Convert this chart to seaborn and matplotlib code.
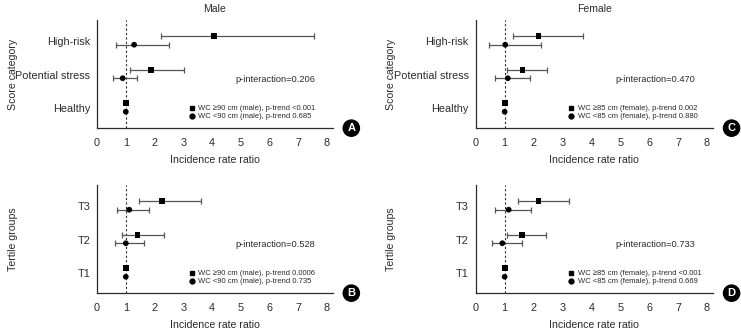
import numpy as np
import pandas as pd
import matplotlib
matplotlib.use('Agg')
import matplotlib.pyplot as plt
import seaborn as sns

# ---- data ----
score_cats = ['Healthy', 'Potential stress', 'High-risk']
tertile_cats = ['T1', 'T2', 'T3']

# panel A: male, score category
a_hi_irr = [1.0, 1.88, 4.07]
a_hi_lo = [1.0, 1.16, 2.21]
a_hi_up = [1.0, 3.04, 7.56]
a_lo_irr = [1.0, 0.89, 1.29]
a_lo_lo = [1.0, 0.57, 0.66]
a_lo_up = [1.0, 1.40, 2.52]

# panel C: female, score category
c_hi_irr = [1.0, 1.62, 2.17]
c_hi_lo = [1.0, 1.07, 1.30]
c_hi_up = [1.0, 2.48, 3.70]
c_lo_irr = [1.0, 1.11, 1.02]
c_lo_lo = [1.0, 0.65, 0.47]
c_lo_up = [1.0, 1.86, 2.26]

# panel B: male, tertiles
b_hi_irr = [1.0, 1.41, 2.25]
b_hi_lo = [1.0, 0.86, 1.45]
b_hi_up = [1.0, 2.32, 3.63]
b_lo_irr = [1.0, 1.00, 1.12]
b_lo_lo = [1.0, 0.62, 0.69]
b_lo_up = [1.0, 1.63, 1.79]

# panel D: female, tertiles
d_hi_irr = [1.0, 1.61, 2.17]
d_hi_lo = [1.0, 1.07, 1.47]
d_hi_up = [1.0, 2.42, 3.23]
d_lo_irr = [1.0, 0.92, 1.14]
d_lo_lo = [1.0, 0.55, 0.67]
d_lo_up = [1.0, 1.60, 1.92]

p_inter = ['0.206', '0.528', '0.470', '0.733']
legend_a = ['WC \u226590 cm (male), p-trend <0.001', 'WC <90 cm (male), p-trend 0.685']
legend_b = ['WC \u226590 cm (male), p-trend 0.0006', 'WC <90 cm (male), p-trend 0.735']
legend_c = ['WC \u226585 cm (female), p-trend 0.002', 'WC <85 cm (female), p-trend 0.880']
legend_d = ['WC \u226585 cm (female), p-trend <0.001', 'WC <85 cm (female), p-trend 0.669']

sns.set_style('white')
plt.rcParams['font.family'] = ['Liberation Sans', 'DejaVu Sans']
TXT = '#2b2b2b'

fig = plt.figure(figsize=(7.41, 3.32), dpi=100)

def make_df(cats, hi, lo):
    rows = []
    for name, (irr, l, u), off in [('hi', hi, 0.14), ('lo', lo, -0.11)]:
        for i, c in enumerate(cats):
            rows.append(dict(cat=c, pos=i + off, irr=irr[i], lo=l[i], up=u[i], grp=name))
    return pd.DataFrame(rows)

def panel(rect, cats, hi, lo, ylabel, pint, leg, letter, title=None):
    ax = fig.add_axes(rect)
    df = make_df(cats, hi, lo)
    # confidence intervals
    for _, r in df.iterrows():
        if r['up'] > r['lo']:
            ax.errorbar(r['irr'], r['pos'],
                        xerr=[[r['irr'] - r['lo']], [r['up'] - r['irr']]],
                        fmt='none', ecolor='#555555', elinewidth=0.9,
                        capsize=2.5, capthick=0.9, zorder=2)
    ax.axvline(1, color=TXT, lw=0.8, ls=(0, (2, 2)), zorder=1)
    sns.scatterplot(data=df, x='irr', y='pos', style='grp',
                    markers={'hi': 's', 'lo': 'o'}, color='black',
                    s=17, edgecolor='black', linewidth=0, legend=False,
                    ax=ax, zorder=3)
    ax.set_xlim(0, 8.2)
    ax.set_ylim(-0.6, 2.63)
    ax.set_xticks(range(9))
    ax.set_yticks(range(len(cats)))
    ax.set_yticklabels(cats)
    ax.tick_params(direction='in', length=4, width=0.8, colors=TXT,
                   labelsize=7.8, pad=5)
    ax.tick_params(axis='x', pad=7)
    for s in ['top', 'right']:
        ax.spines[s].set_visible(False)
    for s in ['left', 'bottom']:
        ax.spines[s].set_color(TXT)
        ax.spines[s].set_linewidth(0.9)
    ax.set_xlabel('Incidence rate ratio', fontsize=7.6, color=TXT, labelpad=5)
    ax.set_ylabel(ylabel, fontsize=7.6, color=TXT)
    ax.yaxis.set_label_coords(-0.335, 0.5)
    if title:
        ax.set_title(title, fontsize=7.5, color=TXT, pad=6)
    ax.text(0.924, 0.454, 'p-interaction=' + pint, transform=ax.transAxes,
            ha='right', va='center', fontsize=6.7, color=TXT)
    # legend drawn by hand, as in the original
    ax.plot([0.403], [0.182], 's', ms=3.5, color='black', transform=ax.transAxes, clip_on=False)
    ax.plot([0.403], [0.108], 'o', ms=3.5, color='black', transform=ax.transAxes, clip_on=False)
    ax.text(0.43, 0.182, leg[0], transform=ax.transAxes, va='center', fontsize=5.5, color=TXT)
    ax.text(0.43, 0.108, leg[1], transform=ax.transAxes, va='center', fontsize=5.5, color=TXT)
    ax.text(1.079, 0.0, letter, transform=ax.transAxes, ha='center', va='center',
            fontsize=8, fontweight='bold', color='white',
            bbox=dict(boxstyle='circle,pad=0.28', fc='black', ec='black'))
    return ax

panel([0.131, 0.614, 0.318, 0.326], score_cats,
      (a_hi_irr, a_hi_lo, a_hi_up), (a_lo_irr, a_lo_lo, a_lo_up),
      'Score category', p_inter[0], legend_a, 'A', 'Male')
panel([0.642, 0.614, 0.320, 0.326], score_cats,
      (c_hi_irr, c_hi_lo, c_hi_up), (c_lo_irr, c_lo_lo, c_lo_up),
      'Score category', p_inter[2], legend_c, 'C', 'Female')
panel([0.131, 0.117, 0.318, 0.326], tertile_cats,
      (b_hi_irr, b_hi_lo, b_hi_up), (b_lo_irr, b_lo_lo, b_lo_up),
      'Tertile groups', p_inter[1], legend_b, 'B')
panel([0.642, 0.117, 0.320, 0.326], tertile_cats,
      (d_hi_irr, d_hi_lo, d_hi_up), (d_lo_irr, d_lo_lo, d_lo_up),
      'Tertile groups', p_inter[3], legend_d, 'D')

fig.savefig('out.png', dpi=100)
